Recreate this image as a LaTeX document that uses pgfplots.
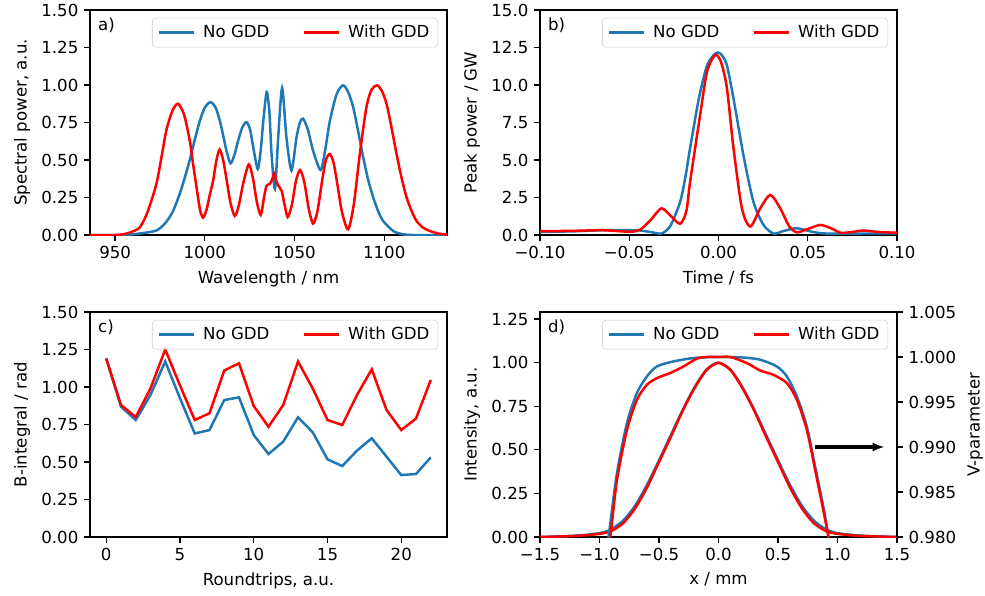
\documentclass[border=0pt]{standalone}
\usepackage{fontspec}
\setmainfont{DejaVu Sans}
\usepackage{pgfplots}
\pgfplotsset{compat=1.18}
\usetikzlibrary{arrows.meta}
\definecolor{tabblue}{HTML}{1F77B4}
\definecolor{myred}{HTML}{FF0000}
\newcommand{\fs}{\fontsize{12}{14.4}\selectfont}
\pgfplotsset{
  every axis/.append style={
    scale only axis, width=3.57in, height=2.25in, anchor=south west,
    axis line style={line width=0.95pt, black},
    tick align=outside, major tick length=4.2pt,
    every tick/.style={black, line width=0.95pt},
    /pgf/number format/assume math mode=true,
    /pgf/number format/1000 sep={},
    tick label style={font=\fs},
    label style={font=\fs},
    clip mode=individual,
    legend cell align=left,
    legend columns=2,
    legend image code/.code={\draw[#1, line width=1.8pt] (0pt,0pt) -- (25pt,0pt); \path (29pt,0pt);},
    legend style={at={(0.975,0.965)}, anchor=north east, draw=black!20, rounded corners=2.5pt,
      fill=white, fill opacity=0.8, text opacity=1, font=\fs,
      inner xsep=4pt, inner ysep=3pt,
      /tikz/every even column/.append style={column sep=22pt}},
  },
  bl/.style={tabblue, line width=1.8pt, smooth, tension=0.45, no markers},
  rd/.style={myred, line width=1.8pt, smooth, tension=0.45, no markers},
  yfmt2/.style={yticklabel style={/pgf/number format/.cd, fixed, fixed zerofill, precision=2}},
}
\begin{document}
\fs
\begin{tikzpicture}
\path[use as bounding box] (0,0) rectangle (9.85in,-5.96in);
% ---------------- a)
\begin{axis}[at={(0.90in,-2.35in)}, xmin=936, xmax=1135, ymin=0, ymax=1.5,
  xtick pos=bottom, ytick pos=left,
  xtick={950,1000,1050,1100}, ytick={0,0.25,0.5,0.75,1,1.25,1.5}, yfmt2,
  xlabel={Wavelength / nm}, ylabel={Spectral power, a.u.}]
\addplot[bl] coordinates {
(936,0) (955,0) (963.7,0.01) (973,0.03) (978,0.08) (982.3,0.16) (987,0.31) (991.6,0.5)
(994.5,0.64) (997.2,0.76) (1000,0.85) (1003.2,0.886) (1006,0.85) (1008.4,0.76) (1010.3,0.66)
(1012.1,0.56) (1014.3,0.478) (1016.4,0.53) (1018.6,0.63) (1021,0.72) (1023.3,0.752) (1025.3,0.70)
(1027,0.585) (1029.5,0.44) (1031.2,0.57) (1032.6,0.76) (1034.5,0.953) (1036,0.82) (1037.2,0.54)
(1039.1,0.306) (1040.9,0.65) (1043.1,0.98) (1045.5,0.65) (1048.3,0.43) (1051.1,0.65) (1053,0.75)
(1054.8,0.775) (1057.5,0.70) (1060.4,0.56) (1064.5,0.433) (1067,0.56) (1069.7,0.76) (1073.5,0.94)
(1077.1,0.998) (1080,0.95) (1082.7,0.853) (1085.5,0.69) (1088.3,0.518) (1091,0.37) (1093.9,0.25)
(1096.6,0.16) (1099.4,0.094) (1105,0.027) (1110,0.006) (1116,0) (1135,0)};
\addlegendentry{No GDD}
\addplot[rd] coordinates {
(936,0) (950,0) (954.5,0.005) (959,0.02) (963.7,0.05) (968,0.15) (973,0.34) (976,0.53)
(978.6,0.70) (982,0.83) (985.1,0.875) (988.5,0.80) (991.6,0.63) (993.5,0.47) (995.4,0.317)
(997.3,0.17) (999,0.116) (1001,0.17) (1002.8,0.27) (1004.6,0.36) (1006.5,0.50) (1008.3,0.57)
(1010.2,0.50) (1012,0.38) (1014.2,0.22) (1016.7,0.127) (1019,0.2) (1021.5,0.35) (1024.5,0.47)
(1026.8,0.38) (1029,0.22) (1031.2,0.134) (1033,0.25) (1034.4,0.328) (1036.2,0.34) (1037.5,0.37)
(1038.7,0.41) (1039.8,0.36) (1040.9,0.33) (1042.8,0.295) (1044.5,0.2) (1046.2,0.12) (1048.5,0.2)
(1050.8,0.36) (1053.1,0.433) (1055.5,0.35) (1058,0.17) (1060.4,0.076) (1062.8,0.16) (1065.5,0.37)
(1067.5,0.50) (1069.7,0.54) (1071.8,0.48) (1074,0.33) (1076.5,0.15) (1079.9,0.038) (1083,0.2)
(1086.4,0.54) (1090.1,0.853) (1093,0.97) (1096.1,0.998) (1098.7,0.96) (1101.3,0.875) (1104,0.72)
(1106.9,0.54) (1109.7,0.38) (1112.5,0.25) (1115.3,0.16) (1118,0.094) (1121.5,0.05) (1125.4,0.027)
(1130,0.01) (1135,0.003)};
\addlegendentry{With GDD}
\node[anchor=north west, inner sep=0pt] at (rel axis cs:0.022,0.965) {a)};
\end{axis}
% ---------------- b)
\begin{axis}[at={(5.40in,-2.35in)}, xmin=-0.1, xmax=0.1, ymin=0, ymax=15,
  xtick pos=bottom, ytick pos=left,
  xtick={-0.1,-0.05,0,0.05,0.1}, xticklabels={−0.10,−0.05,0.00,0.05,0.10},
  ytick={0,2.5,5,7.5,10,12.5,15},
  yticklabel style={/pgf/number format/.cd, fixed, fixed zerofill, precision=1},
  xlabel={Time / fs}, ylabel={Peak power / GW}]
\addplot[bl] coordinates {
(-0.1,0.2) (-0.08,0.25) (-0.0626,0.33) (-0.05,0.32) (-0.044,0.3) (-0.038,0.2) (-0.032,0.1)
(-0.027,0.6) (-0.0215,2.2) (-0.0185,3.9) (-0.0159,5.8) (-0.011,9.1) (-0.0064,11.3) (-0.0018,12.1)
(0.001,12.1) (0.0045,11.4) (0.0084,9.1) (0.014,5.3) (0.0196,2.2) (0.0252,0.67) (0.0308,0.1)
(0.036,0.25) (0.043,0.45) (0.048,0.35) (0.053,0.2) (0.06,0.1) (0.08,0.1) (0.1,0.1)};
\addlegendentry{No GDD}
\addplot[rd] coordinates {
(-0.1,0.25) (-0.08,0.28) (-0.065,0.32) (-0.05,0.22) (-0.044,0.35) (-0.038,1.0) (-0.032,1.78)
(-0.027,1.3) (-0.0215,0.75) (-0.018,1.6) (-0.0159,3.55) (-0.0103,8.0) (-0.0064,10.9) (-0.0018,12.0)
(0.0015,11.5) (0.0047,9.8) (0.0084,5.8) (0.0131,1.78) (0.0178,0.56) (0.0235,1.8) (0.029,2.67)
(0.0345,1.8) (0.0395,0.6) (0.0439,0.18) (0.05,0.4) (0.057,0.67) (0.063,0.45) (0.0685,0.15)
(0.075,0.2) (0.081,0.3) (0.09,0.2) (0.1,0.15)};
\addlegendentry{With GDD}
\node[anchor=north west, inner sep=0pt] at (rel axis cs:0.022,0.965) {b)};
\end{axis}
% ---------------- c)
\begin{axis}[at={(0.90in,-5.37in)}, xmin=-1.1, xmax=23.1, ymin=0, ymax=1.5,
  xtick pos=bottom, ytick pos=left,
  xtick={0,5,10,15,20}, ytick={0,0.25,0.5,0.75,1,1.25,1.5}, yfmt2,
  xlabel={Roundtrips, a.u.}, ylabel={B-integral / rad}]
\addplot[tabblue, line width=1.8pt, no markers] coordinates {
(0,1.19) (1,0.87) (2,0.78) (3,0.947) (4,1.17) (5,0.925) (6,0.69) (7,0.713) (8,0.913) (9,0.931)
(10,0.68) (11,0.553) (12,0.636) (13,0.798) (14,0.698) (15,0.518) (16,0.473) (17,0.576) (18,0.658)
(19,0.536) (20,0.413) (21,0.42) (22,0.531)};
\addlegendentry{No GDD}
\addplot[myred, line width=1.8pt, no markers] coordinates {
(0,1.19) (1,0.88) (2,0.80) (3,0.99) (4,1.25) (5,1.01) (6,0.78) (7,0.825) (8,1.11) (9,1.158)
(10,0.873) (11,0.735) (12,0.88) (13,1.17) (14,0.99) (15,0.78) (16,0.747) (17,0.947) (18,1.118)
(19,0.847) (20,0.713) (21,0.79) (22,1.047)};
\addlegendentry{With GDD}
\node[anchor=north west, inner sep=0pt] at (rel axis cs:0.022,0.965) {c)};
\end{axis}
% ---------------- d) left axis
\begin{axis}[at={(5.40in,-5.37in)}, xmin=-1.5, xmax=1.5, ymin=0, ymax=1.29,
  xtick pos=bottom, ytick pos=left,
  xtick={-1.5,-1,-0.5,0,0.5,1,1.5}, xticklabels={−1.5,−1.0,−0.5,0.0,0.5,1.0,1.5},
  ytick={0,0.25,0.5,0.75,1,1.25}, yfmt2,
  xlabel={x / mm}, ylabel={Intensity, a.u.}]
\addplot[bl] coordinates {
(-1.5,0) (-1.2,0.008) (-1.0,0.022) (-0.9,0.045) (-0.8,0.095) (-0.7,0.18) (-0.6,0.3) (-0.5,0.44)
(-0.4,0.585) (-0.3,0.73) (-0.2,0.86) (-0.1,0.96) (0,1.0) (0.1,0.96) (0.2,0.86) (0.3,0.73)
(0.4,0.585) (0.5,0.44) (0.6,0.3) (0.7,0.18) (0.8,0.095) (0.9,0.045) (1.0,0.022) (1.2,0.008) (1.5,0)};
\addplot[rd] coordinates {
(-1.5,0) (-1.2,0.006) (-1.0,0.018) (-0.9,0.035) (-0.8,0.08) (-0.7,0.165) (-0.6,0.285) (-0.5,0.43)
(-0.4,0.575) (-0.3,0.725) (-0.2,0.855) (-0.1,0.958) (0,0.998) (0.1,0.958) (0.2,0.855) (0.3,0.725)
(0.4,0.575) (0.5,0.43) (0.6,0.285) (0.7,0.165) (0.8,0.08) (0.9,0.035) (1.0,0.018) (1.2,0.006) (1.5,0)};
\node[anchor=north west, inner sep=0pt] at (rel axis cs:0.022,0.965) {d)};
\end{axis}
% ---------------- d) right axis
\begin{axis}[at={(5.40in,-5.37in)}, xmin=-1.5, xmax=1.5, ymin=0.98, ymax=1.005,
  axis x line=none, axis y line*=right, ytick pos=right,
  ytick={0.98,0.985,0.99,0.995,1.0,1.005},
  yticklabel style={/pgf/number format/.cd, fixed, fixed zerofill, precision=3},
  ylabel={V-parameter}]
\addplot[bl] coordinates {
(-0.96,0.977) (-0.924,0.98) (-0.854,0.98702) (-0.77,0.99262) (-0.686,0.99598) (-0.602,0.99783)
(-0.518,0.99895) (-0.378,0.99951) (-0.2,0.9999) (0,1.0) (0.2,0.99995) (0.35,0.9997) (0.49,0.99895)
(0.575,0.99783) (0.659,0.9956) (0.743,0.99224) (0.813,0.98776) (0.882,0.98328) (0.924,0.98) (0.96,0.977)};
\addlegendentry{No GDD}
\addplot[rd] coordinates {
(-0.96,0.977) (-0.91,0.98) (-0.854,0.98627) (-0.77,0.99187) (-0.686,0.99523) (-0.602,0.99691)
(-0.518,0.99765) (-0.406,0.99822) (-0.294,0.99895) (-0.182,0.99982) (-0.1,1.0) (0,1.0) (0.1,1.0)
(0.238,0.99933) (0.35,0.9985) (0.462,0.99802) (0.575,0.99709) (0.659,0.99523) (0.743,0.99187)
(0.813,0.98739) (0.882,0.98291) (0.924,0.98) (0.96,0.977)};
\addlegendentry{With GDD}
\draw[-{Latex[length=9pt,width=6.5pt]}, line width=2.3pt, black] (axis cs:0.81,0.99) -- (axis cs:1.40,0.99);
\end{axis}
\end{tikzpicture}
\end{document}
